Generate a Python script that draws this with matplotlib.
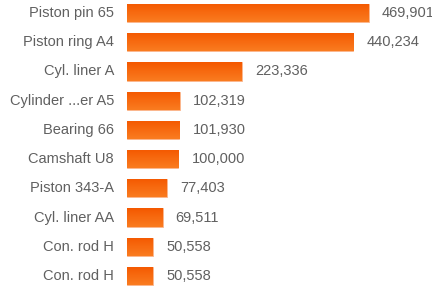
import matplotlib
matplotlib.use("Agg")
import matplotlib.pyplot as plt
import numpy as np
from matplotlib.colors import LinearSegmentedColormap

categories = ["Piston pin 65", "Piston ring A4", "Cyl. liner A", "Cylinder ...er A5",
              "Bearing 66", "Camshaft U8", "Piston 343-A", "Cyl. liner AA",
              "Con. rod H", "Con. rod H"]
values = [469901, 440234, 223336, 102319, 101930, 100000, 77403, 69511, 50558, 50558]

plt.rcParams['font.family'] = ['Liberation Sans', 'DejaVu Sans']

fig = plt.figure(figsize=(4.32, 2.89), dpi=100)
ax = fig.add_axes([127/432, 0, 305/432, 1])
ax.axis('off')

y = np.arange(len(categories))
bars = ax.barh(y, values, height=0.62, color='#f86a10', edgecolor='#fbb890', linewidth=0.6)

cmap = LinearSegmentedColormap.from_list('g', ['#f45800', '#fa7c20'])
grad = np.linspace(0, 1, 64).reshape(-1, 1)
for b in bars:
    x0, y0 = b.get_x(), b.get_y()
    w, h = b.get_width(), b.get_height()
    im = ax.imshow(grad, cmap=cmap, aspect='auto', extent=(x0, x0 + w, y0 + h, y0),
                   zorder=b.get_zorder() + 0.1, interpolation='bilinear')
    im.set_clip_path(b)

ax.set_xlim(0, 305/0.000514)
ax.set_ylim(9.445, -0.445)

for yi, v, c in zip(y, values, categories):
    ax.annotate(f"{v:,}", xy=(v, yi), xytext=(13, 0), textcoords='offset pixels',
                va='center', ha='left', fontsize=10.5, color='#606060')
    ax.annotate(c, xy=(0, yi), xytext=(-13, 0), textcoords='offset pixels',
                va='center', ha='right', fontsize=10.5, color='#606060')

fig.savefig('out.png', dpi=100)
